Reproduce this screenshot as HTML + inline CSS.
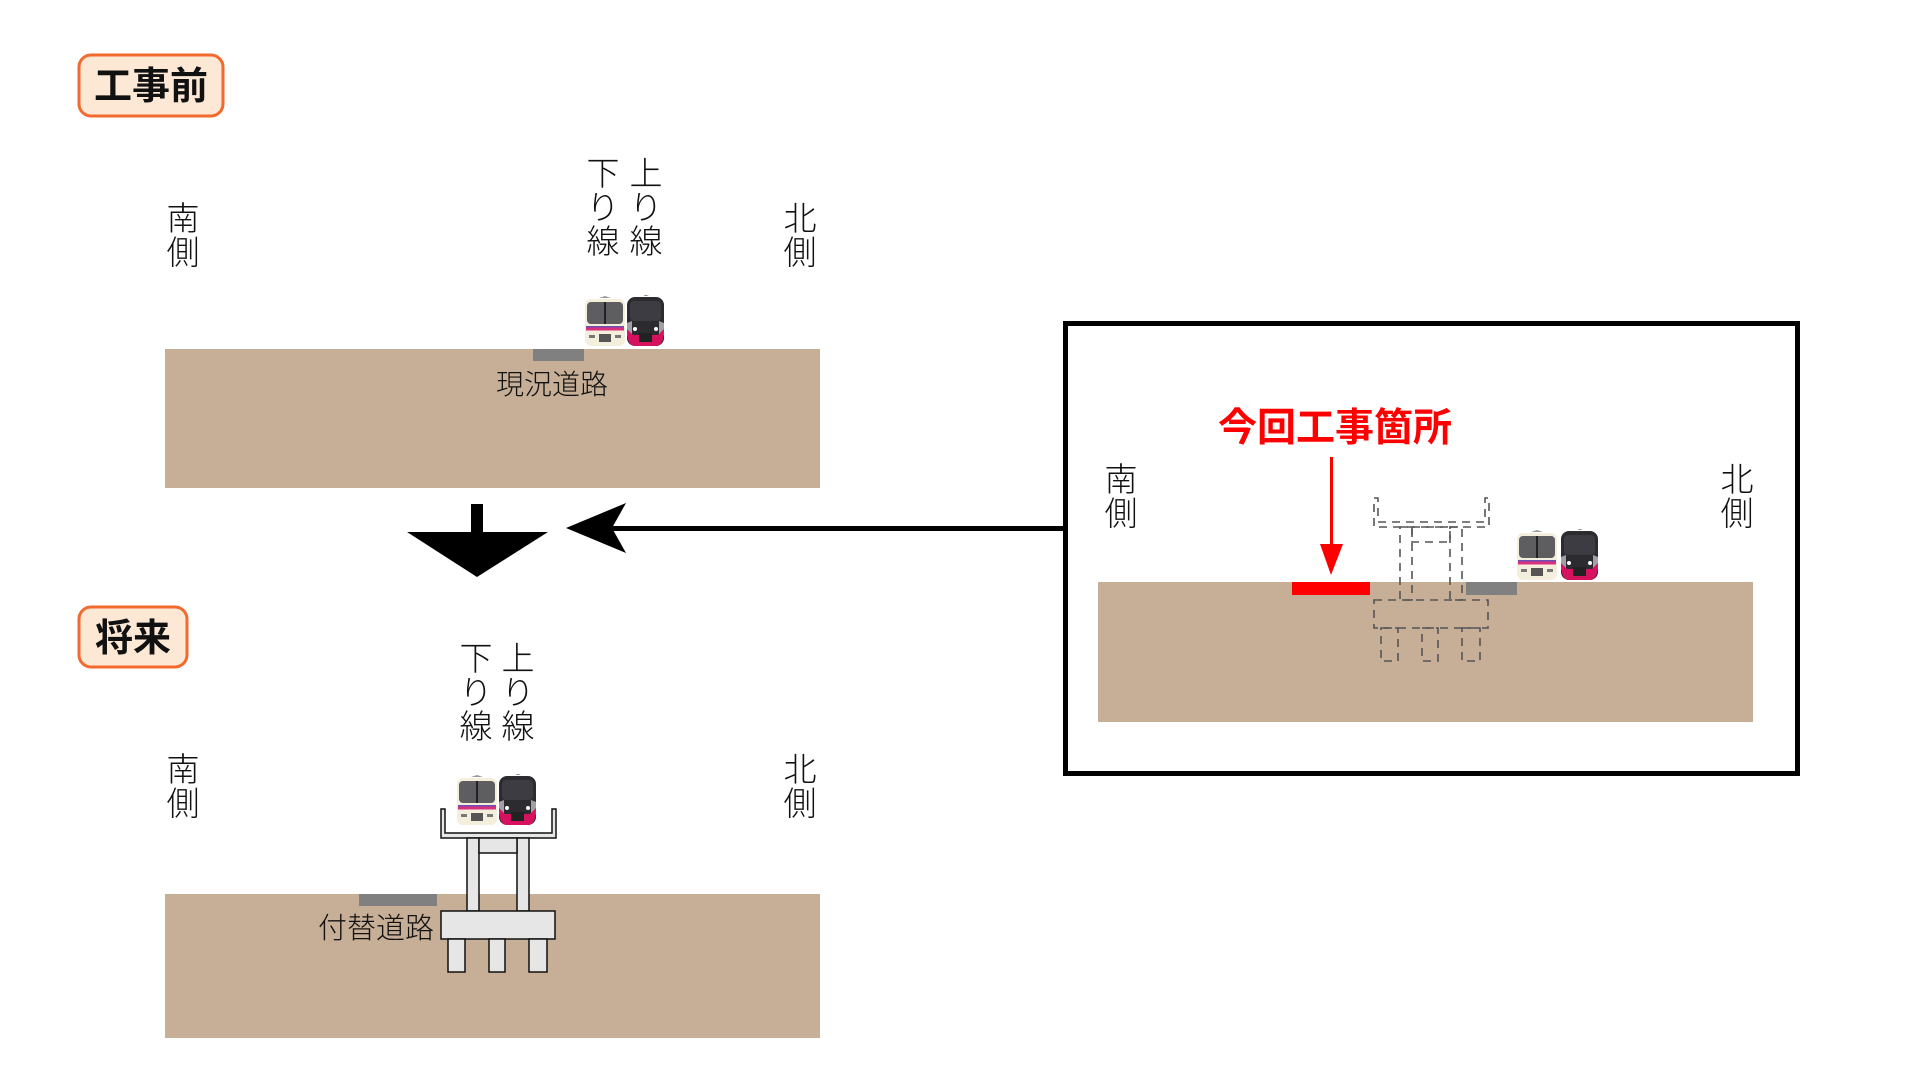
<!DOCTYPE html>
<html><head><meta charset="utf-8"><style>
html,body{margin:0;padding:0;background:#fff;}
svg{display:block;}
text{font-family:"Liberation Sans","Noto Sans CJK JP",sans-serif;}
.lt{font-weight:300;}
</style></head><body>
<svg width="1920" height="1080" viewBox="0 0 1920 1080" xmlns="http://www.w3.org/2000/svg">
<defs>
<g id="dtrain">
  <rect x="0" y="3" width="40" height="47" rx="6" fill="#f4eedd"/>
  <path d="M14,2 L20,0 L26,2 Z" fill="#999"/>
  <rect x="2" y="6" width="36" height="22" rx="4" fill="#5e5e60"/>
  <rect x="19" y="6" width="2" height="22" fill="#222"/>
  <rect x="1" y="30" width="38" height="1.5" fill="#6a4fb0"/>
  <rect x="1" y="31.5" width="38" height="3" fill="#d8307d"/>
  <rect x="14" y="38" width="12" height="8" fill="#555"/>
  <rect x="4" y="39" width="6" height="3" fill="#777"/>
  <rect x="30" y="39" width="6" height="3" fill="#777"/>
</g>
<g id="utrain">
  <path d="M16,1 L19,0 L22,1 Z" fill="#777"/>
  <rect x="0" y="2" width="37" height="49" rx="8" fill="#2b2b30"/>
  <rect x="3" y="6" width="31" height="20" rx="4" fill="#3c3c42"/>
  <path d="M0,28 L5,26 L5,44 L0,40 Z" fill="#a0a0a6"/>
  <path d="M37,28 L32,26 L32,44 L37,40 Z" fill="#a0a0a6"/>
  <path d="M0,34 Q0,51 8,51 L29,51 Q37,51 37,34 L31,40 L6,40 Z" fill="#d6125e"/>
  <rect x="12" y="38" width="13" height="9" fill="#222"/>
  <circle cx="8" cy="34" r="2" fill="#fff"/>
  <circle cx="29" cy="34" r="2" fill="#fff"/>
</g>
<g id="pier">
  <path d="M441,809 H445 V833 H552 V809 H556 V838 H441 Z"/>
  <path d="M467,838 H479 V911 H467 Z"/>
  <path d="M517,838 H529 V911 H517 Z"/>
  <path d="M479,838 H517 V853 H479 Z"/>
  <path d="M441,911 H555 V939 H441 Z"/>
  <path d="M448,939 H465 V972 H448 Z"/>
  <path d="M489,939 H505 V972 H489 Z"/>
  <path d="M529,939 H547 V972 H529 Z"/>
</g>
</defs>

<rect x="79" y="55" width="144" height="61" rx="12" fill="#fde8d6" stroke="#f26a2e" stroke-width="3"/>
<text x="151" y="99" font-size="38" font-weight="bold" text-anchor="middle" fill="#111">工事前</text>

<g font-size="33" fill="#111" text-anchor="middle" class="lt">
  <text x="183" y="230">南</text><text x="183" y="264">側</text>
  <text x="800" y="230">北</text><text x="800" y="264">側</text>
  <text x="603" y="185">下</text><text x="603" y="219">り</text><text x="603" y="253">線</text>
  <text x="646" y="185">上</text><text x="646" y="219">り</text><text x="646" y="253">線</text>
</g>
<rect x="165" y="349" width="655" height="139" fill="#c6af96"/>
<rect x="533" y="349" width="51" height="12" fill="#808080"/>
<text x="552" y="394" font-size="28" text-anchor="middle" fill="#111" class="lt">現況道路</text>
<use href="#dtrain" x="585" y="296"/>
<use href="#utrain" x="627" y="295"/>

<rect x="471" y="504" width="12" height="30" fill="#000"/>
<polygon points="407,532 548,532 477,577" fill="#000"/>

<rect x="610" y="526" width="456" height="5" fill="#000"/>
<polygon points="566,528 626,503 612,528 626,553" fill="#000"/>

<rect x="79" y="607" width="108" height="60" rx="12" fill="#fde8d6" stroke="#f26a2e" stroke-width="3"/>
<text x="133" y="651" font-size="38" font-weight="bold" text-anchor="middle" fill="#111">将来</text>
<g font-size="33" fill="#111" text-anchor="middle" class="lt">
  <text x="183" y="781">南</text><text x="183" y="815">側</text>
  <text x="800" y="781">北</text><text x="800" y="815">側</text>
  <text x="476" y="670">下</text><text x="476" y="704">り</text><text x="476" y="738">線</text>
  <text x="518" y="670">上</text><text x="518" y="704">り</text><text x="518" y="738">線</text>
</g>
<rect x="165" y="894" width="655" height="144" fill="#c6af96"/>
<rect x="359" y="894" width="78" height="12" fill="#808080"/>
<text x="376" y="938" font-size="29" text-anchor="middle" fill="#111" class="lt">付替道路</text>
<g fill="#e6e6e6" stroke="#111" stroke-width="1.5"><use href="#pier"/></g>
<use href="#dtrain" x="457" y="775"/>
<use href="#utrain" x="499" y="774"/>

<rect x="1065.5" y="323.5" width="732" height="450" fill="#fff" stroke="#000" stroke-width="5"/>
<text x="1335" y="441" font-size="39" font-weight="bold" text-anchor="middle" fill="#f00">今回工事箇所</text>
<g font-size="33" fill="#111" text-anchor="middle" class="lt">
  <text x="1121" y="491">南</text><text x="1121" y="525">側</text>
  <text x="1737" y="491">北</text><text x="1737" y="525">側</text>
</g>
<rect x="1098" y="582" width="655" height="140" fill="#c6af96"/>
<rect x="1292" y="582" width="78" height="13" fill="#f00"/>
<rect x="1466" y="582" width="51" height="13" fill="#808080"/>
<rect x="1330" y="457" width="3" height="95" fill="#f00"/>
<polygon points="1320,544 1343,544 1331,575" fill="#f00"/>
<g fill="none" stroke="#555" stroke-width="1.6" stroke-dasharray="8,6" transform="translate(933,-311)"><use href="#pier"/></g>
<use href="#dtrain" x="1517" y="530"/>
<use href="#utrain" x="1561" y="529"/>
</svg>
</body></html>
